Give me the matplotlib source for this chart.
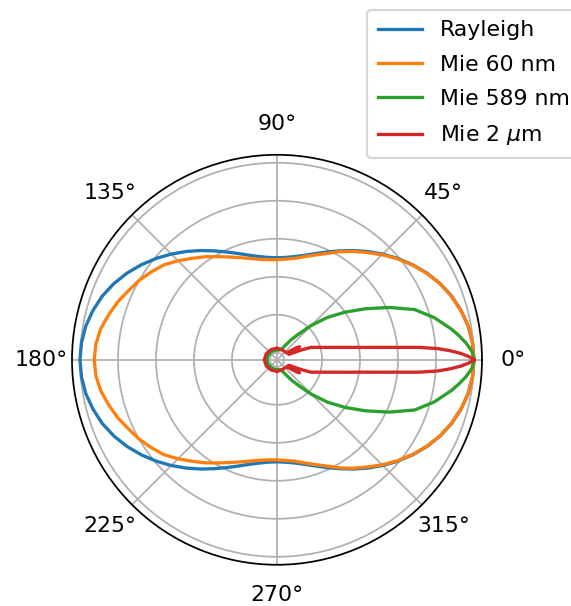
import numpy as np
import matplotlib.pyplot as plt

# scattering angle (deg) and normalised intensity, 0..180, mirrored below
ang_5 = list(range(0, 181, 5))
rayleigh = [1.0, 0.996, 0.985, 0.966, 0.942, 0.911, 0.875, 0.835, 0.793, 0.75,
            0.707, 0.665, 0.625, 0.589, 0.558, 0.533, 0.515, 0.504, 0.50,
            0.504, 0.515, 0.533, 0.558, 0.589, 0.625, 0.665, 0.707, 0.75,
            0.793, 0.835, 0.875, 0.911, 0.942, 0.966, 0.985, 0.996, 1.0]
mie_60 = [1.0, 0.996, 0.985, 0.965, 0.94, 0.91, 0.873, 0.833, 0.79, 0.745,
          0.70, 0.66, 0.62, 0.58, 0.55, 0.525, 0.505, 0.495, 0.49,
          0.492, 0.50, 0.515, 0.535, 0.56, 0.59, 0.625, 0.66, 0.70,
          0.74, 0.77, 0.80, 0.825, 0.855, 0.88, 0.905, 0.92, 0.925]

ang_589 = [0, 2.5, 5, 7.5, 10, 15, 20, 25, 30, 35, 40, 45, 50, 55, 60, 65,
           70, 80, 100, 130, 160, 180]
mie_589 = [1.0, 0.99, 0.963, 0.93, 0.895, 0.82, 0.735, 0.615, 0.50, 0.40,
           0.31, 0.22, 0.14, 0.09, 0.05, 0.03, 0.02, 0.015, 0.015, 0.015,
           0.015, 0.015]

ang_2um = [0, 1, 2, 3, 4, 5, 6, 7, 8, 10, 12, 14, 16, 18, 20, 22, 24, 26,
           28, 30, 32, 34, 37, 45, 60, 90, 120, 150, 180]
mie_2um = [1.0, 0.972, 0.93, 0.875, 0.81, 0.712, 0.587, 0.50, 0.43, 0.34,
           0.277, 0.233, 0.20, 0.174, 0.154, 0.10, 0.04, 0.03, 0.08, 0.10,
           0.08, 0.04, 0.025, 0.022, 0.022, 0.025, 0.025, 0.028, 0.03]

series = [
    ("Rayleigh", ang_5, rayleigh),
    ("Mie 60 nm", ang_5, mie_60),
    ("Mie 589 nm", ang_589, mie_589),
    (r"Mie 2 $\mu$m", ang_2um, mie_2um),
]


def full_circle(ang, val):
    ang = np.asarray(ang, float)
    val = np.asarray(val, float)
    th = np.concatenate([ang, 360 - ang[::-1]])
    r = np.concatenate([val, val[::-1]])
    return np.deg2rad(th), r


dpi = 158
fig = plt.figure(figsize=(571 / dpi, 606 / dpi), dpi=dpi)
ax = fig.add_axes([0.1261, 0.068, 0.718, 0.6766], projection="polar")

for label, ang, val in series:
    th, r = full_circle(ang, val)
    ax.plot(th, r, label=label)

ax.set_rlim(-0.037, 1.042)
ax.set_yticks([0, 0.2, 0.4, 0.6, 0.8, 1.0])
ax.set_yticklabels([])

# legend sticks out past the right edge, as in the original export
ax.legend(loc="upper left", bbox_to_anchor=(367.3 / 571, 1 - 9.5 / 606),
          bbox_transform=fig.transFigure, borderaxespad=0,
          labelspacing=0.65, borderpad=0.5)

fig.savefig("out.png", dpi=dpi)
